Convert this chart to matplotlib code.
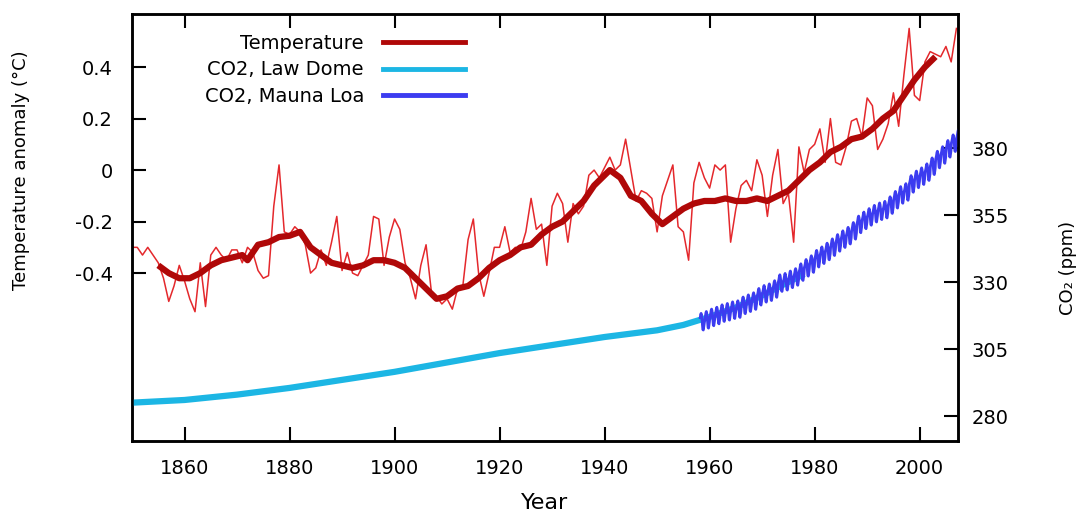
import matplotlib.pyplot as plt
from matplotlib.lines import Line2D
import numpy as np

# annual temperature anomaly (deg C), 1850-2007
years = np.arange(1850, 2008)
temp = [-0.30, -0.30, -0.33, -0.30, -0.33, -0.36, -0.42, -0.51, -0.45, -0.37,
        -0.43, -0.50, -0.55, -0.36, -0.53, -0.33, -0.30, -0.33, -0.35, -0.31,
        -0.31, -0.36, -0.30, -0.32, -0.39, -0.42, -0.41, -0.14, 0.02, -0.24,
        -0.25, -0.22, -0.24, -0.29, -0.40, -0.38, -0.31, -0.37, -0.28, -0.18,
        -0.39, -0.32, -0.40, -0.41, -0.37, -0.33, -0.18, -0.19, -0.37, -0.26,
        -0.19, -0.23, -0.36, -0.42, -0.50, -0.37, -0.29, -0.47, -0.49, -0.52,
        -0.50, -0.54, -0.46, -0.45, -0.27, -0.19, -0.40, -0.49, -0.40, -0.30,
        -0.30, -0.22, -0.32, -0.30, -0.31, -0.24, -0.11, -0.23, -0.21, -0.37,
        -0.14, -0.09, -0.13, -0.28, -0.13, -0.17, -0.14, -0.02, 0.00, -0.03,
        0.01, 0.05, 0.00, 0.02, 0.12, 0.00, -0.12, -0.08, -0.09, -0.11,
        -0.24, -0.10, -0.04, 0.02, -0.22, -0.24, -0.35, -0.05, 0.03, -0.03,
        -0.07, 0.02, 0.00, 0.02, -0.28, -0.15, -0.06, -0.04, -0.08, 0.04,
        -0.02, -0.18, -0.02, 0.08, -0.13, -0.09, -0.28, 0.09, -0.01, 0.08,
        0.10, 0.16, 0.03, 0.20, 0.03, 0.02, 0.09, 0.19, 0.20, 0.13,
        0.28, 0.25, 0.08, 0.12, 0.18, 0.30, 0.17, 0.37, 0.55, 0.29,
        0.27, 0.42, 0.46, 0.45, 0.44, 0.48, 0.42, 0.55]

# smoothed temperature
smooth_years = [1855, 1857, 1859, 1861, 1863, 1865, 1867, 1869, 1871, 1872,
                1874, 1876, 1878, 1880, 1882, 1884, 1886, 1888, 1890, 1892,
                1894, 1896, 1898, 1900, 1902, 1904, 1906, 1908, 1910, 1912,
                1914, 1916, 1918, 1920, 1922, 1924, 1926, 1928, 1930, 1932,
                1934, 1936, 1938, 1940, 1941, 1943, 1945, 1947, 1949, 1951,
                1953, 1955, 1957, 1959, 1961, 1963, 1965, 1967, 1969, 1971,
                1973, 1975, 1977, 1979, 1981, 1983, 1985, 1987, 1989, 1991,
                1993, 1995, 1997, 1999, 2001, 2003]
smooth_temp = [-0.37, -0.40, -0.42, -0.42, -0.40, -0.37, -0.35, -0.34, -0.33, -0.35,
               -0.29, -0.28, -0.26, -0.255, -0.24, -0.30, -0.33, -0.36, -0.37, -0.38,
               -0.37, -0.35, -0.35, -0.36, -0.38, -0.42, -0.46, -0.50, -0.49, -0.46,
               -0.45, -0.42, -0.38, -0.35, -0.33, -0.30, -0.29, -0.25, -0.22, -0.20,
               -0.16, -0.12, -0.06, -0.02, 0.00, -0.03, -0.10, -0.12, -0.17, -0.21,
               -0.18, -0.15, -0.13, -0.12, -0.12, -0.11, -0.12, -0.12, -0.11, -0.12,
               -0.10, -0.08, -0.04, 0.00, 0.03, 0.07, 0.09, 0.12, 0.13, 0.16,
               0.20, 0.23, 0.29, 0.35, 0.40, 0.44]

# CO2 Law Dome (ppm)
law_years = [1850, 1860, 1870, 1880, 1890, 1900, 1910, 1920, 1930, 1940,
             1950, 1955, 1960, 1965, 1970, 1975, 1978]
law_co2 = [285.0, 286.0, 288.0, 290.5, 293.5, 296.5, 300.0, 303.5, 306.5, 309.5,
           312.0, 314.0, 317.0, 320.5, 325.0, 330.0, 333.0]

# CO2 Mauna Loa: annual means and seasonal offsets (Jan..Dec)
ml_years = np.arange(1958, 2008)
ml_annual = [315.3, 316.0, 316.9, 317.6, 318.5, 319.0, 319.6, 320.0, 321.4, 322.2,
             323.0, 324.6, 325.7, 326.3, 327.5, 329.7, 330.2, 331.1, 332.0, 333.8,
             335.4, 336.8, 338.8, 340.1, 341.5, 343.1, 344.7, 346.1, 347.4, 349.2,
             351.6, 353.1, 354.4, 355.6, 356.5, 357.1, 358.8, 360.8, 362.6, 363.7,
             366.7, 368.4, 369.6, 371.1, 373.3, 375.8, 377.5, 379.8, 381.9, 383.8]
ml_season = [0.0, 0.6, 1.4, 2.5, 3.0, 2.3, 0.8, -1.3, -3.0, -3.2, -2.0, -0.9]

ml_t = []
ml_co2 = []
for yr, mean in zip(ml_years, ml_annual):
    for m in range(12):
        if yr == 1958 and m < 2:
            continue
        ml_t.append(yr + (m + 0.5) / 12)
        ml_co2.append(mean + ml_season[m])

c_thin = '#e4282c'
c_thick = '#b00808'
c_law = '#1cb6e4'
c_ml = '#3c3cf0'

fig = plt.figure(figsize=(10.82, 5.15), dpi=100)
ax = fig.add_axes([0.122, 0.1437, 0.7634, 0.8291])
ax2 = ax.twinx()

ax.plot(years, temp, color=c_thin, lw=1.1)
ax.plot(smooth_years, smooth_temp, color=c_thick, lw=4.5, solid_capstyle='butt')

ax2.plot(law_years, law_co2, color=c_law, lw=4.5, solid_capstyle='butt')
ax2.plot(ml_t, ml_co2, color=c_ml, lw=2.0)

ax.set_xlim(1850, 2007.3)
ax.set_ylim(-1.052, 0.606)
ax2.set_ylim(270.7, 430)

ax.set_xticks(range(1860, 2001, 20))
ax.set_yticks([-0.4, -0.2, 0, 0.2, 0.4])
ax.set_yticklabels(['-0.4', '-0.2', '0', '0.2', '0.4'])
ax2.set_yticks([280, 305, 330, 355, 380])

ax.tick_params(axis='x', direction='in', length=10, width=1.5, top=True,
               pad=13, labelsize=14)
ax.tick_params(axis='y', direction='in', length=10, width=1.5, right=False,
               pad=14, labelsize=14)
ax2.tick_params(axis='y', direction='in', length=10, width=1.5, pad=10,
                labelsize=14)
for a in (ax, ax2):
    for s in a.spines.values():
        s.set_linewidth(1.8)

ax.set_xlabel('Year', fontsize=16, va='center')
ax.xaxis.set_label_coords(0.5, -0.145)
ax.set_ylabel('Temperature anomaly (°C)', fontsize=13, va='center')
ax.yaxis.set_label_coords(-0.134, 0.635)
ax2.set_ylabel('CO₂ (ppm)', fontsize=13, va='center')
ax2.yaxis.set_label_coords(1.133, 0.405)

handles = [Line2D([], [], color=c_thick, lw=3.5),
           Line2D([], [], color=c_law, lw=3.5),
           Line2D([], [], color=c_ml, lw=3.5)]
labels = ['Temperature', 'CO2, Law Dome', 'CO2, Mauna Loa']
ax2.legend(handles, labels, loc='upper right', bbox_to_anchor=(465 / 1082, 481 / 515),
           bbox_transform=fig.transFigure, frameon=False, markerfirst=False,
           handlelength=4.2, handletextpad=1.0, labelspacing=0.38,
           borderpad=0, borderaxespad=0, fontsize=14)

fig.savefig('out.png', dpi=100)
